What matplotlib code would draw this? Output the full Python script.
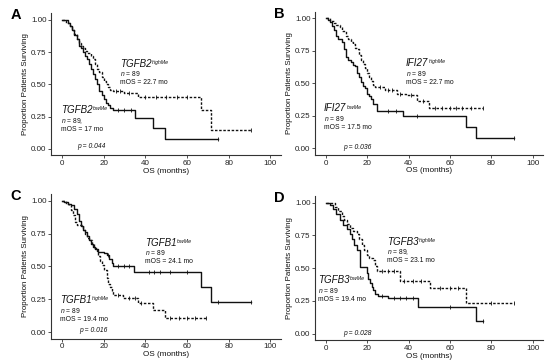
import matplotlib
matplotlib.use("Agg")
import matplotlib.pyplot as plt

plt.rcParams['font.family'] = ['Liberation Sans', 'DejaVu Sans']
plt.rcParams['mathtext.fontset'] = 'custom'
plt.rcParams['mathtext.it'] = 'Liberation Sans:italic'
plt.rcParams['mathtext.rm'] = 'Liberation Sans'

# ---------------- data ----------------
# Panel A (TGFB2)
a_low_t = [0, 3, 4, 5, 6, 7, 8, 9, 10, 11, 12, 13, 14, 15, 16, 17, 18, 19, 20, 21, 22, 23, 24.5, 35, 43.7, 49.6, 74.8]
a_low_s = [1.0, 0.98, 0.95, 0.92, 0.88, 0.85, 0.80, 0.78, 0.75, 0.72, 0.70, 0.66, 0.62, 0.58, 0.54, 0.50, 0.45, 0.42, 0.39, 0.36, 0.34, 0.32, 0.30, 0.24, 0.16, 0.08, 0.08]
a_low_c = [27, 30, 33, 74.8]
a_high_t = [0, 2, 4, 5, 6, 7, 8, 9, 10, 11, 12, 14, 15, 16, 17, 18, 19, 20, 21, 22, 23, 24.5, 30, 36.5, 66.8, 71.6, 90.7]
a_high_s = [1.0, 0.98, 0.95, 0.92, 0.89, 0.85, 0.82, 0.80, 0.78, 0.76, 0.74, 0.72, 0.70, 0.66, 0.62, 0.60, 0.56, 0.53, 0.50, 0.48, 0.46, 0.45, 0.43, 0.40, 0.30, 0.15, 0.15]
a_high_c = [26, 28, 32, 40, 45, 50, 55, 60, 90.7]

# Panel B (IFI27)
b_low_t = [0, 1, 2, 3, 4, 5, 6, 7, 8, 9, 10, 11, 12, 13, 14, 15, 16, 17, 18, 19, 20, 21, 22, 23, 24.6, 37.2, 67.6, 72.6, 91]
b_low_s = [1.0, 0.99, 0.97, 0.94, 0.91, 0.86, 0.84, 0.84, 0.82, 0.76, 0.70, 0.68, 0.66, 0.64, 0.63, 0.58, 0.55, 0.51, 0.48, 0.46, 0.42, 0.40, 0.38, 0.34, 0.29, 0.25, 0.16, 0.08, 0.08]
b_low_c = [30, 34, 44, 91]
b_high_t = [0, 2, 4, 5, 7, 8, 10, 11, 12, 13, 14, 15, 16, 17, 18, 19, 20, 21, 22, 23, 23.8, 28.6, 34.5, 39, 44, 50, 76]
b_high_s = [1.0, 0.98, 0.96, 0.95, 0.93, 0.90, 0.86, 0.84, 0.82, 0.80, 0.77, 0.76, 0.72, 0.68, 0.65, 0.62, 0.58, 0.55, 0.52, 0.49, 0.47, 0.45, 0.42, 0.41, 0.36, 0.31, 0.31]
b_high_c = [26, 30, 32, 36, 41, 47, 53, 56, 60, 63, 66, 70, 76]

# Panel C (TGFB1)
c_low_t = [0, 1, 3, 4.6, 6, 7, 8, 9, 10, 11, 12, 13, 14, 15, 16, 17.4, 20, 21.4, 22.5, 23.8, 24.5, 34.6, 66.8, 71.6, 90.8]
c_low_s = [1.0, 0.99, 0.98, 0.97, 0.94, 0.90, 0.85, 0.81, 0.78, 0.76, 0.73, 0.70, 0.67, 0.65, 0.63, 0.61, 0.60, 0.585, 0.56, 0.53, 0.50, 0.46, 0.34, 0.23, 0.23]
c_low_c = [22, 27, 30, 32, 42, 44, 47, 52, 60, 75, 90.8]
c_high_t = [0, 2, 3.4, 4.6, 5.5, 6.2, 7, 10, 11, 12, 13, 14.2, 15.5, 16.6, 17.5, 18.3, 19, 20, 21.4, 22.3, 23, 23.8, 24.5, 29.3, 36.5, 43.7, 49.3, 68.9]
c_high_s = [1.0, 0.98, 0.97, 0.93, 0.89, 0.84, 0.82, 0.78, 0.75, 0.72, 0.70, 0.67, 0.64, 0.62, 0.58, 0.54, 0.51, 0.47, 0.41, 0.37, 0.34, 0.31, 0.28, 0.26, 0.22, 0.17, 0.11, 0.11]
c_high_c = [27, 32, 35, 38, 52, 56, 60, 64, 68.9]

# Panel D (TGFB3)
d_low_t = [0, 2, 3.7, 5, 6.9, 8.5, 10.1, 11.5, 12.6, 13.8, 15, 16.6, 19.8, 20.5, 21.4, 22.2, 23, 24, 25.4, 30, 44.4, 72.6, 76]
d_low_s = [1.0, 0.98, 0.955, 0.91, 0.865, 0.83, 0.80, 0.76, 0.725, 0.68, 0.64, 0.51, 0.46, 0.42, 0.39, 0.356, 0.33, 0.30, 0.29, 0.27, 0.20, 0.10, 0.10]
d_low_c = [27, 33, 36, 39, 42, 60, 76]
d_high_t = [0, 4.5, 6, 7.7, 9, 10.5, 11.7, 13, 15, 16, 17.4, 18.5, 19.8, 21, 23, 23.8, 24.6, 35.9, 50.4, 67.6, 91]
d_high_s = [1.0, 0.97, 0.94, 0.90, 0.87, 0.84, 0.81, 0.78, 0.76, 0.72, 0.675, 0.64, 0.60, 0.58, 0.56, 0.52, 0.476, 0.40, 0.35, 0.237, 0.237]
d_high_c = [27, 30, 33, 38, 42, 46, 55, 60, 64, 80, 91]

x_ticks = [0, 20, 40, 60, 80, 100]
y_ticks = [0.00, 0.25, 0.50, 0.75, 1.00]
y_tick_labels = ["0.00", "0.25", "0.50", "0.75", "1.00"]

panels = [
    dict(letter="A", rect=[0.0936, 0.573, 0.417, 0.39],
         solid=(a_low_t, a_low_s, a_low_c), dashed=(a_high_t, a_high_s, a_high_c),
         top=("TGFB2", "highMe", "89", "22.7", (28, 0.66)),
         bot=("TGFB2", "lowMe", "89,", "17", (-0.6, 0.30)),
         p=("0.044", (7.3, 0.018))),
    dict(letter="B", rect=[0.5734, 0.5747, 0.414, 0.393],
         solid=(b_low_t, b_low_s, b_low_c), dashed=(b_high_t, b_high_s, b_high_c),
         top=("IFI27", "highMe", "89", "22.7", (38.8, 0.654)),
         bot=("IFI27", "lowMe", "89", "17.5", (-0.8, 0.307)),
         p=("0.036", (8.2, 0.008))),
    dict(letter="C", rect=[0.0936, 0.0699, 0.417, 0.396],
         solid=(c_low_t, c_low_s, c_low_c), dashed=(c_high_t, c_high_s, c_high_c),
         top=("TGFB1", "lowMe", "89", "24.1", (39.7, 0.68)),
         bot=("TGFB1", "highMe", "89", "19.4", (-1.0, 0.242)),
         p=("0.016", (8.1, 0.008))),
    dict(letter="D", rect=[0.5734, 0.0653, 0.414, 0.396],
         solid=(d_low_t, d_low_s, d_low_c), dashed=(d_high_t, d_high_s, d_high_c),
         top=("TGFB3", "highMe", "89,", "23.1", (29.5, 0.70)),
         bot=("TGFB3", "lowMe", "89", "19.4", (-3.9, 0.41)),
         p=("0.028", (8.2, 0.003))),
]

fig = plt.figure(figsize=(5.5, 3.64), dpi=100)
renderer = fig.canvas.get_renderer()
axis_col = "#333333"
txt_col = "#111111"

def label_block(ax, info, dy1, dy2):
    gene, sup, n, mos, (x, y) = info
    main = ax.text(x, y, gene, fontsize=7.0, style="italic",
                   ha="left", va="center", color=txt_col)
    bb = main.get_window_extent(renderer=renderer)
    ax.text(bb.x1 + 0.3, bb.y1 - 1.2, sup, fontsize=3.8, style="italic",
            ha="left", va="top", color=txt_col, transform=None)
    ax.text(x, y - dy1, r"$\mathit{n}$ = " + n, fontsize=4.9, ha="left",
            va="center", color=txt_col)
    ax.text(x, y - dy2, "mOS = " + mos + " mo", fontsize=4.9, ha="left",
            va="center", color=txt_col)

for p in panels:
    ax = fig.add_axes(p["rect"])
    t, s, c = p["solid"]
    ax.plot(t, s, drawstyle="steps-post", color=txt_col, lw=1.0)
    ax.plot(c, [s[max(i for i, tt in enumerate(t) if tt <= cc)] for cc in c],
            ls="none", marker="|", ms=2.5, mew=0.6, color=txt_col)
    t, s, c = p["dashed"]
    ax.plot(t, s, drawstyle="steps-post", color=txt_col, lw=1.0, ls=(0, (1.8, 1.2)))
    ax.plot(c, [s[max(i for i, tt in enumerate(t) if tt <= cc)] for cc in c],
            ls="none", marker="|", ms=2.5, mew=0.6, color=txt_col)

    ax.set_xlim(-5, 105)
    ax.set_ylim(-0.05, 1.05)
    ax.set_xticks(x_ticks)
    ax.set_yticks(y_ticks)
    ax.set_yticklabels(y_tick_labels)
    for side in ("top", "right"):
        ax.spines[side].set_visible(False)
    for side in ("left", "bottom"):
        ax.spines[side].set_color(axis_col)
        ax.spines[side].set_linewidth(0.8)
    ax.tick_params(axis="both", labelsize=5.8, colors=axis_col, labelcolor="#222222",
                   length=2, width=0.6, pad=1.5)
    ax.set_xlabel("OS (months)", fontsize=5.9, labelpad=0.5, color=txt_col)
    ax.set_ylabel("Proportion Patients Surviving", fontsize=5.7, labelpad=1.5, color=txt_col)

    label_block(ax, p["top"], 0.075, 0.145)
    label_block(ax, p["bot"], 0.08, 0.15)
    pv, (px, py) = p["p"]
    ax.text(px, py, "p = " + pv, fontsize=4.9, style="italic",
            ha="left", va="center", color=txt_col)

    r = p["rect"]
    fig.text(r[0] - 0.075, r[1] + r[3] - 0.005, p["letter"], fontsize=10.5,
             fontweight="bold", ha="left", va="center")

fig.savefig("out.png", dpi=100)
